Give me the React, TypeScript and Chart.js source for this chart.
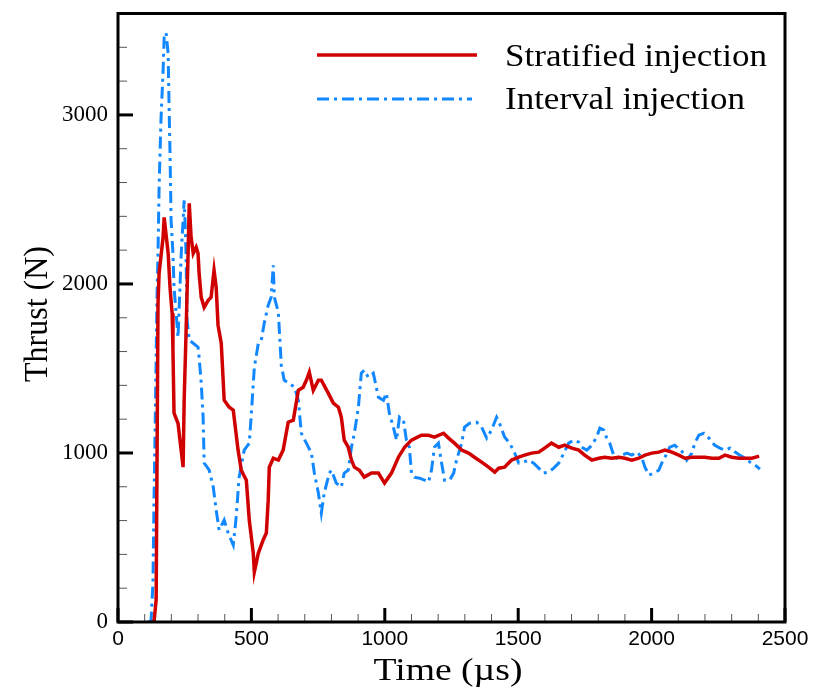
import React, { useEffect, useRef } from "react";
import { Chart, registerables } from "chart.js";

Chart.register(...registerables);

// ---- data ----
const seriesLabels = ["Stratified injection", "Interval injection"];
const xTitle = "Time (µs)";
const yTitle = "Thrust (N)";
const xTickValues = [0, 500, 1000, 1500, 2000, 2500];
const yTickValues = [0, 1000, 2000, 3000];

const stratTime = [
  124, 135, 143, 150, 154, 169, 173, 188, 195, 203,
  206, 210, 225, 244, 248, 255, 263, 267, 274, 282,
  293, 300, 304, 312, 323, 338, 349, 360, 368, 375,
  387, 398, 417, 432, 450, 462, 481, 492, 507, 511,
  526, 544, 556, 563, 567, 582, 601, 619, 638, 657,
  676, 694, 706, 717, 732, 751, 762, 788, 807, 826,
  837, 848, 863, 875, 886, 905, 923, 950, 976, 999,
  1025, 1051, 1074, 1100, 1137, 1164, 1186, 1220, 1239, 1261,
  1288, 1314, 1336, 1363, 1389, 1412, 1427, 1449, 1475, 1502,
  1524, 1550, 1577, 1599, 1625, 1652, 1674, 1701, 1727, 1749,
  1776, 1802, 1824, 1851, 1877, 1900, 1926, 1952, 1975, 2001,
  2027, 2050, 2076, 2102, 2125, 2151, 2177, 2200, 2226, 2252,
  2275, 2301, 2328, 2350, 2376, 2403,
];
const stratThrust = [
  0, 0, 130, 1886, 2063, 2276, 2394, 2181, 1980, 1826,
  1608, 1235, 1176, 916, 1312, 1708, 2199, 2477, 2276, 2181,
  2217, 2181, 2063, 1921, 1862, 1903, 1921, 2081, 1980, 1756,
  1649, 1312, 1271, 1253, 1017, 898, 839, 603, 408, 296,
  408, 485, 526, 721, 916, 969, 958, 1017, 1182, 1194,
  1371, 1389, 1430, 1478, 1371, 1430, 1430, 1354, 1295, 1271,
  1212, 1076, 1034, 958, 916, 898, 857, 881, 881, 822,
  881, 975, 1034, 1076, 1105, 1105, 1094, 1117, 1088, 1058,
  1017, 999, 975, 946, 916, 887, 910, 916, 958, 975,
  987, 999, 1005, 1029, 1058, 1034, 1046, 1029, 1017, 987,
  958, 969, 975, 969, 975, 969, 958, 969, 987, 999,
  1005, 1017, 1005, 987, 969, 975, 975, 975, 969, 969,
  987, 975, 969, 969, 969, 981,
];

const intervalTime = [
  113, 124, 131, 135, 139, 146, 150, 154, 161, 169,
  173, 180, 188, 191, 195, 199, 206, 210, 218, 225,
  229, 237, 244, 248, 251, 255, 259, 267, 282, 300,
  304, 312, 319, 323, 342, 357, 368, 379, 398, 413,
  432, 443, 454, 473, 492, 499, 511, 526, 537, 548,
  563, 574, 582, 586, 601, 612, 623, 642, 661, 676,
  687, 706, 725, 736, 751, 762, 773, 792, 800, 818,
  837, 848, 863, 875, 886, 901, 912, 923, 938, 957,
  976, 995, 1006, 1017, 1032, 1044, 1055, 1070, 1081, 1092,
  1100, 1111, 1130, 1149, 1164, 1175, 1186, 1201, 1213, 1224,
  1243, 1258, 1269, 1288, 1299, 1318, 1344, 1363, 1382, 1400,
  1419, 1430, 1449, 1468, 1487, 1502, 1520, 1539, 1558, 1577,
  1595, 1614, 1633, 1652, 1671, 1689, 1708, 1727, 1738, 1757,
  1776, 1794, 1806, 1821, 1832, 1843, 1858, 1869, 1888, 1907,
  1926, 1945, 1963, 1975, 1990, 2008, 2027, 2038, 2050, 2068,
  2087, 2106, 2121, 2132, 2151, 2162, 2177, 2196, 2215, 2226,
  2237, 2256, 2275, 2294, 2313, 2331, 2350, 2369, 2388, 2406,
];
const intervalThrust = [
  0, 12, 231, 721, 1117, 1903, 2181, 2571, 2967, 3263,
  3458, 3487, 3363, 3086, 2772, 2376, 2181, 1980, 1826, 1685,
  1844, 2181, 2376, 2494, 2376, 2181, 1785, 1667, 1649, 1626,
  1566, 1413, 1212, 940, 898, 798, 662, 544, 603, 526,
  455, 621, 857, 1017, 1058, 1212, 1507, 1649, 1667, 1767,
  1874, 1921, 2110, 1921, 1832, 1519, 1430, 1413, 1389, 1312,
  1117, 1058, 999, 881, 763, 644, 763, 881, 898, 822,
  798, 881, 898, 1034, 1117, 1271, 1472, 1490, 1448, 1472,
  1330, 1312, 1354, 1235, 1153, 1076, 1212, 1194, 1076, 1034,
  881, 857, 851, 839, 828, 898, 1034, 1058, 940, 839,
  839, 881, 958, 1058, 1153, 1176, 1182, 1153, 1088, 1135,
  1212, 1176, 1094, 1058, 999, 940, 946, 958, 940, 910,
  881, 887, 910, 940, 999, 1058, 1076, 1064, 1034, 1017,
  1046, 1094, 1147, 1135, 1088, 1058, 987, 969, 987, 999,
  987, 1005, 975, 916, 869, 881, 898, 940, 975, 1034,
  1046, 1017, 999, 958, 999, 1058, 1105, 1117, 1088, 1064,
  1046, 1029, 1017, 1029, 1005, 987, 969, 946, 928, 904,
];

const RED = "#d00000";
const BLUE = "#1188ff";
const BLUE_DASH = [12, 5, 3, 5];
const SERIF = "'Liberation Serif', 'Times New Roman', serif";
const SANS = "'Liberation Sans', Arial, sans-serif";

function drawStretched(ctx: CanvasRenderingContext2D, text: string, x: number, y: number, targetW: number, align: "left" | "center") {
  const w = ctx.measureText(text).width;
  const sx = targetW / w;
  ctx.save();
  ctx.translate(x, y);
  ctx.scale(sx, 1);
  ctx.textAlign = "left";
  ctx.fillText(text, align === "center" ? -w / 2 : 0, 0);
  ctx.restore();
}

const decorPlugin = {
  id: "decor",
  afterDraw(chart: any) {
    const { ctx, chartArea: a, scales } = chart;
    const xs = scales.x;
    const ys = scales.y;
    ctx.save();
    ctx.strokeStyle = "#000";
    for (let v = ys.min; v <= ys.max + 0.1; v += 200) {
      const y = ys.getPixelForValue(v);
      const major = v % 1000 === 0;
      ctx.beginPath();
      ctx.lineWidth = major ? 3 : 1;
      ctx.strokeStyle = major ? "#000" : "#555";
      ctx.moveTo(a.left, y);
      ctx.lineTo(a.left + (major ? 15 : 9), y);
      ctx.stroke();
    }
    for (let v = xs.min; v <= xs.max + 0.1; v += 100) {
      const x = xs.getPixelForValue(v);
      const major = v % 500 === 0;
      ctx.beginPath();
      ctx.lineWidth = major ? 3 : 1;
      ctx.strokeStyle = major ? "#000" : "#555";
      ctx.moveTo(x, a.bottom);
      ctx.lineTo(x, a.bottom - (major ? 14 : 8));
      ctx.stroke();
    }
    ctx.strokeStyle = "#000";
    ctx.lineWidth = 3;
    ctx.strokeRect(a.left, a.top, a.right - a.left, a.bottom - a.top);

    ctx.fillStyle = "#000";
    ctx.textBaseline = "alphabetic";
    ctx.font = `32px ${SERIF}`;
    drawStretched(ctx, xTitle, 448, 680, 149, "center");

    ctx.save();
    ctx.translate(38, 314);
    ctx.scale(1.08, 1);
    ctx.rotate(-Math.PI / 2);
    ctx.textAlign = "center";
    ctx.textBaseline = "middle";
    ctx.font = `32px ${SERIF}`;
    ctx.fillText(yTitle, 0, 0);
    ctx.restore();

    const ds = chart.data.datasets;
    const rows = [
      { lineY: 55, baseY: 66, w: 262, x1: 317, x2: 477 },
      { lineY: 99, baseY: 109, w: 240, x1: 317, x2: 472 },
    ];
    rows.forEach((r, i) => {
      const d = ds[i];
      ctx.beginPath();
      ctx.strokeStyle = d.borderColor;
      ctx.lineWidth = d.borderWidth;
      ctx.setLineDash(d.borderDash || []);
      ctx.moveTo(r.x1, r.lineY);
      ctx.lineTo(r.x2, r.lineY);
      ctx.stroke();
      ctx.setLineDash([]);
      ctx.fillStyle = "#000";
      ctx.font = `32px ${SERIF}`;
      ctx.textBaseline = "alphabetic";
      drawStretched(ctx, d.label, 505, r.baseY, r.w, "left");
    });
    ctx.restore();
  },
};

export default function App() {
  const ref = useRef<HTMLCanvasElement | null>(null);
  useEffect(() => {
    document.body.style.margin = "0";
    const canvas = ref.current!;
    const chart = new Chart(canvas, {
      type: "line",
      data: {
        datasets: [
          {
            label: seriesLabels[0],
            data: stratTime.map((t, i) => ({ x: t, y: stratThrust[i] })),
            borderColor: RED,
            borderWidth: 3.5,
            pointRadius: 0,
            tension: 0,
            fill: false,
          },
          {
            label: seriesLabels[1],
            data: intervalTime.map((t, i) => ({ x: t, y: intervalThrust[i] })),
            borderColor: BLUE,
            borderWidth: 3,
            borderDash: BLUE_DASH,
            pointRadius: 0,
            tension: 0,
            fill: false,
          },
        ],
      },
      options: {
        responsive: false,
        animation: false,
        devicePixelRatio: 1,
        layout: { padding: { top: 13.5, right: 31, left: 0, bottom: 0 } },
        plugins: { legend: { display: false }, tooltip: { enabled: false } },
        scales: {
          x: {
            type: "linear",
            min: 0,
            max: 2500,
            grid: { display: false, drawTicks: false },
            border: { display: false },
            afterBuildTicks: (s: any) => {
              s.ticks = xTickValues.map((v) => ({ value: v }));
            },
            ticks: {
              padding: 5,
              color: "#000",
              font: { family: SANS, size: 21 },
              maxRotation: 0,
              autoSkip: false,
              callback: (v: any) => String(v),
            },
            afterFit: (s: any) => {
              s.height = 65;
              s.paddingLeft = 0;
              s.paddingRight = 0;
            },
          },
          y: {
            type: "linear",
            min: 0,
            max: 3600,
            grid: { display: false, drawTicks: false },
            border: { display: false },
            afterBuildTicks: (s: any) => {
              s.ticks = yTickValues.map((v) => ({ value: v }));
            },
            ticks: {
              padding: 10,
              color: "#000",
              font: { family: SERIF, size: 23 },
              autoSkip: false,
              callback: (v: any) => String(v),
            },
            afterFit: (s: any) => {
              s.width = 118;
              s.paddingTop = 0;
              s.paddingBottom = 0;
            },
          },
        },
      },
      plugins: [decorPlugin],
    });
    return () => chart.destroy();
  }, []);
  return (
    <div style={{ width: 816, height: 687 }}>
      <canvas ref={ref} width={816} height={687} style={{ display: "block" }} />
    </div>
  );
}
